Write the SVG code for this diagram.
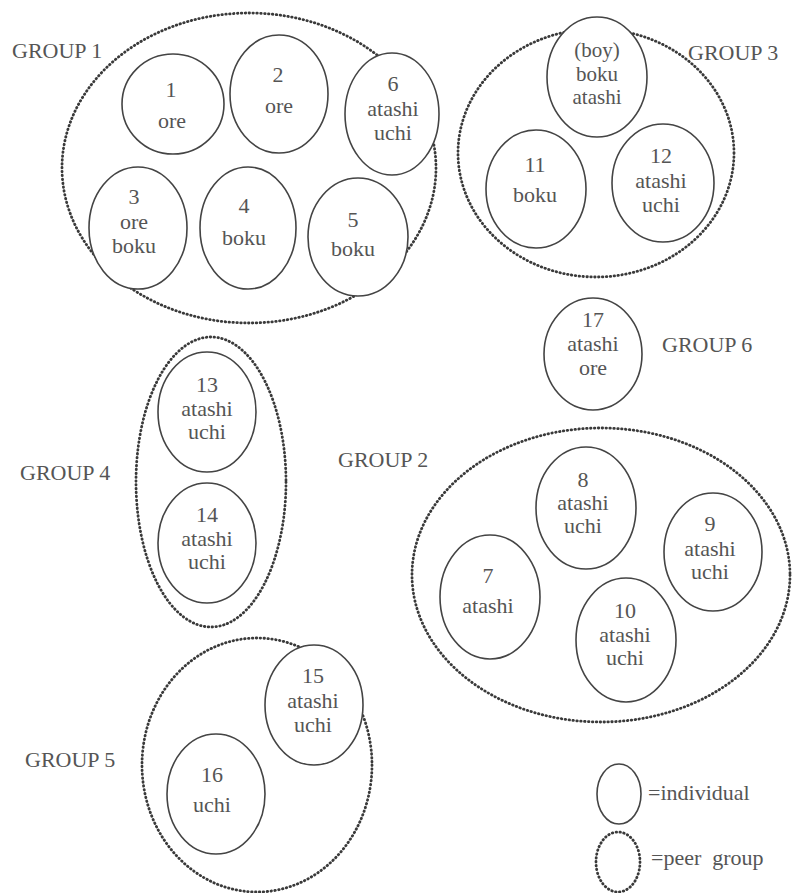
<svg xmlns="http://www.w3.org/2000/svg" width="794" height="893" viewBox="0 0 794 893" font-family="Liberation Serif, DejaVu Serif, serif" font-size="22">
  <style>
    .ind { fill: #fff; stroke: #444; stroke-width: 1.6; }
    .peer { fill: none; stroke: #3a3a3a; stroke-width: 2.8; stroke-dasharray: 0.5 3.4; stroke-linecap: round; }
    .t { fill: #555; }
    .c { text-anchor: middle; }
    .small { font-size: 21px; }
  </style>
  <rect width="794" height="893" fill="#fff"/>

  <!-- peer groups (dotted outlines) -->
  <g id="peer-groups">
    <ellipse id="group1" class="peer" cx="249" cy="168" rx="187" ry="155"/>
    <ellipse id="group3" class="peer" cx="596" cy="153" rx="138" ry="124"/>
    <ellipse id="group4" class="peer" cx="211" cy="482" rx="75" ry="145"/>
    <ellipse id="group2" class="peer" cx="601" cy="575" rx="189" ry="147"/>
    <ellipse id="group5" class="peer" cx="257" cy="765" rx="115" ry="127"/>
  </g>

  <!-- group labels -->
  <g id="group-labels" class="t">
    <text x="12" y="58">GROUP 1</text>
    <text x="688" y="60">GROUP 3</text>
    <text x="20" y="480">GROUP 4</text>
    <text x="338" y="467">GROUP 2</text>
    <text x="662" y="352">GROUP 6</text>
    <text x="25" y="767">GROUP 5</text>
  </g>

  <g class="t">
  <!-- group 1 members -->
  <g id="n1"><ellipse class="ind" cx="173" cy="104" rx="51" ry="50"/>
    <text class="c" x="171" y="97">1</text><text class="c" x="172" y="128">ore</text></g>
  <g id="n2"><ellipse class="ind" cx="279" cy="94" rx="49" ry="59"/>
    <text class="c" x="278" y="82">2</text><text class="c" x="279" y="113">ore</text></g>
  <g id="n6"><ellipse class="ind" cx="392" cy="114" rx="47" ry="61"/>
    <text class="c" x="393" y="91">6</text><text class="c" x="393" y="116">atashi</text><text class="c" x="393" y="140">uchi</text></g>
  <g id="n3"><ellipse class="ind" cx="138" cy="228" rx="49" ry="61"/>
    <text class="c" x="134" y="204">3</text><text class="c" x="134" y="229">ore</text><text class="c" x="134" y="253">boku</text></g>
  <g id="n4"><ellipse class="ind" cx="248" cy="228" rx="48" ry="61"/>
    <text class="c" x="244" y="213">4</text><text class="c" x="244" y="245">boku</text></g>
  <g id="n5"><ellipse class="ind" cx="358" cy="237" rx="50" ry="59"/>
    <text class="c" x="353" y="227">5</text><text class="c" x="353" y="256">boku</text></g>

  <!-- group 3 members -->
  <g id="n-boy" class="small"><ellipse class="ind" cx="597" cy="77" rx="50" ry="60"/>
    <text class="c" x="597" y="57">(boy)</text><text class="c" x="597" y="81">boku</text><text class="c" x="597" y="104">atashi</text></g>
  <g id="n11"><ellipse class="ind" cx="536" cy="189" rx="50" ry="59"/>
    <text class="c" x="535" y="172">11</text><text class="c" x="535" y="202">boku</text></g>
  <g id="n12"><ellipse class="ind" cx="663" cy="183" rx="51" ry="59"/>
    <text class="c" x="661" y="163">12</text><text class="c" x="661" y="188">atashi</text><text class="c" x="661" y="212">uchi</text></g>

  <!-- group 6 (single member) -->
  <g id="n17"><ellipse class="ind" cx="593" cy="354" rx="49" ry="56"/>
    <text class="c" x="593" y="327">17</text><text class="c" x="593" y="351">atashi</text><text class="c" x="593" y="375">ore</text></g>

  <!-- group 4 members -->
  <g id="n13"><ellipse class="ind" cx="207" cy="412" rx="49" ry="60"/>
    <text class="c" x="207" y="392">13</text><text class="c" x="207" y="416">atashi</text><text class="c" x="207" y="439">uchi</text></g>
  <g id="n14"><ellipse class="ind" cx="207" cy="543" rx="49" ry="60"/>
    <text class="c" x="207" y="522">14</text><text class="c" x="207" y="546">atashi</text><text class="c" x="207" y="569">uchi</text></g>

  <!-- group 2 members -->
  <g id="n8"><ellipse class="ind" cx="586" cy="508" rx="50" ry="61"/>
    <text class="c" x="583" y="487">8</text><text class="c" x="583" y="510">atashi</text><text class="c" x="583" y="533">uchi</text></g>
  <g id="n9"><ellipse class="ind" cx="713" cy="552" rx="49" ry="59"/>
    <text class="c" x="710" y="531">9</text><text class="c" x="710" y="556">atashi</text><text class="c" x="710" y="579">uchi</text></g>
  <g id="n7"><ellipse class="ind" cx="490" cy="597" rx="50" ry="62"/>
    <text class="c" x="488" y="583">7</text><text class="c" x="488" y="613">atashi</text></g>
  <g id="n10"><ellipse class="ind" cx="626" cy="640" rx="50" ry="62"/>
    <text class="c" x="625" y="618">10</text><text class="c" x="625" y="642">atashi</text><text class="c" x="625" y="665">uchi</text></g>

  <!-- group 5 members -->
  <g id="n15"><ellipse class="ind" cx="314" cy="705" rx="49" ry="60"/>
    <text class="c" x="313" y="683">15</text><text class="c" x="313" y="708">atashi</text><text class="c" x="313" y="732">uchi</text></g>
  <g id="n16"><ellipse class="ind" cx="216" cy="794" rx="49" ry="60"/>
    <text class="c" x="212" y="782">16</text><text class="c" x="212" y="812">uchi</text></g>

  <!-- key -->
  <g id="legend">
    <ellipse class="ind" cx="619" cy="794" rx="22" ry="30"/>
    <text x="648" y="800">=individual</text>
    <ellipse class="peer" cx="618" cy="862" rx="22" ry="30"/>
    <text x="651" y="865" xml:space="preserve">=peer  group</text>
  </g>
  </g>

  <!-- no connectors in this figure -->
  <g id="connectors"/>
</svg>
